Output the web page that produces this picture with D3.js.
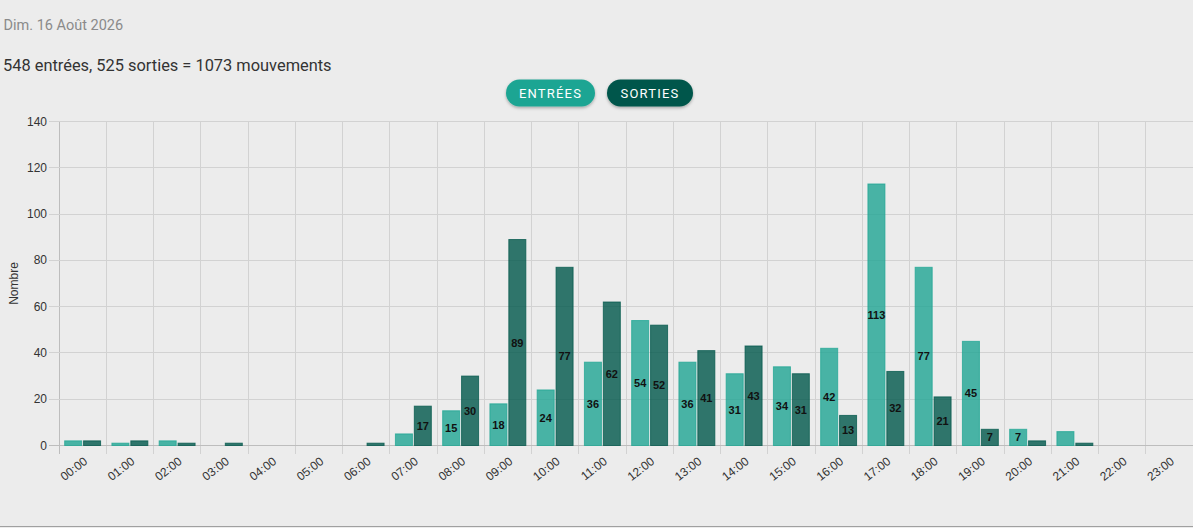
<!DOCTYPE html>
<html>
<head>
<meta charset="utf-8">
<script src="https://cdn.jsdelivr.net/npm/d3@7/dist/d3.min.js"></script>
<style>
  html, body { margin: 0; padding: 0; background: #ececec; }
  svg { display: block; }
</style>
</head>
<body>
<svg id="chart" width="1193" height="528"></svg>
<script>
// ---------------- data ----------------
const hours = ["00:00","01:00","02:00","03:00","04:00","05:00","06:00","07:00","08:00","09:00","10:00","11:00",
               "12:00","13:00","14:00","15:00","16:00","17:00","18:00","19:00","20:00","21:00","22:00","23:00"];
const entrees = [2, 1, 2, 0, 0, 0, 0, 5, 15, 18, 24, 36, 54, 36, 31, 34, 42, 113, 77, 45, 7, 6, 0, 0];
const sorties = [2, 2, 1, 1, 0, 0, 1, 17, 30, 89, 77, 62, 52, 41, 43, 31, 13, 32, 21, 7, 2, 1, 0, 0];
const yTicks = [0, 20, 40, 60, 80, 100, 120, 140];
const dateLabel = "Dim. 16 Août 2026";
const seriesNames = ["ENTRÉES", "SORTIES"];
const seriesColors = ["#1fa593", "#00574b"];

const total = d3.sum(entrees) + d3.sum(sorties);
const summary = `${d3.sum(entrees)} entrées, ${d3.sum(sorties)} sorties = ${total} mouvements`;

// ---------------- layout ----------------
const W = 1193, H = 528;
const plot = { left: 59, right: 1193, top: 121.5, bottom: 445.5 };
const svg = d3.select("#chart");
const axisFont = "'Liberation Sans', Arial, Helvetica, sans-serif";
const headFont = "Roboto, 'Noto Sans', sans-serif";

// ombre des boutons
const defs = svg.append("defs");
const f = defs.append("filter").attr("id", "shadow").attr("x", "-20%").attr("y", "-30%").attr("width", "140%").attr("height", "170%");
f.append("feDropShadow").attr("dx", 0).attr("dy", 1.5).attr("stdDeviation", 1.5).attr("flood-color", "#000").attr("flood-opacity", 0.3);

// ---------------- header ----------------
svg.append("text")
  .attr("x", 3.5).attr("y", 30)
  .attr("font-family", headFont).attr("font-size", 14.5)
  .attr("fill", "#8a8a8a")
  .text(dateLabel);

svg.append("text")
  .attr("x", 3).attr("y", 70.5)
  .attr("font-family", headFont).attr("font-size", 16.4)
  .attr("fill", "#333")
  .text(summary);

// boutons de légende
const btnW = [89, 86], btnGap = 12, btnH = 27, btnY = 79.5;
const btnStart = 506;
const legend = svg.append("g").attr("class", "legend");
let bx = btnStart;
seriesNames.forEach((name, i) => {
  const g = legend.append("g").attr("transform", `translate(${bx},${btnY})`);
  g.append("rect")
    .attr("width", btnW[i]).attr("height", btnH)
    .attr("rx", btnH / 2)
    .attr("fill", seriesColors[i])
    .attr("filter", "url(#shadow)");
  g.append("text")
    .attr("x", btnW[i] / 2).attr("y", btnH / 2 + 4.5)
    .attr("text-anchor", "middle")
    .attr("font-family", headFont).attr("font-size", 13)
    .attr("letter-spacing", 1.2)
    .attr("fill", "#fff")
    .text(name);
  bx += btnW[i] + btnGap;
});

// ---------------- scales ----------------
const x = d3.scaleBand()
  .domain(hours)
  .range([plot.left, plot.right])
  .padding(0);

const bw = x.bandwidth();
const xInner = d3.scaleBand()
  .domain(["entrees", "sorties"])
  .range([0.1 * bw, 0.9 * bw])
  .paddingInner(0.1)
  .paddingOuter(0.05);

const y = d3.scaleLinear()
  .domain([0, 140])
  .range([plot.bottom, plot.top]);

// ---------------- grid ----------------
const grid = svg.append("g").attr("class", "grid");
const edges = hours.map(h => x(h)).concat([plot.right]);

grid.selectAll("line.v")
  .data(edges)
  .join("line")
  .attr("class", "v")
  .attr("x1", d => d).attr("x2", d => d)
  .attr("y1", plot.top).attr("y2", plot.bottom + 8)
  .attr("stroke", d => d === plot.left ? "#bdbdbd" : "#d2d2d2")
  .attr("stroke-width", 1)
  .attr("shape-rendering", "crispEdges");

grid.selectAll("line.h")
  .data(yTicks)
  .join("line")
  .attr("class", "h")
  .attr("x1", plot.left - 10).attr("x2", plot.right)
  .attr("y1", d => y(d)).attr("y2", d => y(d))
  .attr("stroke", d => d === 0 ? "#bdbdbd" : "#d2d2d2")
  .attr("stroke-width", 1)
  .attr("shape-rendering", "crispEdges");

// ---------------- bars ----------------
const rows = hours.map((h, i) => ({ hour: h, entrees: entrees[i], sorties: sorties[i] }));
const keys = ["entrees", "sorties"];

const groups = svg.append("g").attr("class", "bars")
  .selectAll("g")
  .data(rows)
  .join("g")
  .attr("transform", d => `translate(${x(d.hour)},0)`);

const cells = groups.selectAll("g")
  .data(d => keys.map((k, i) => ({ key: k, value: d[k], color: seriesColors[i] })))
  .join("g");

cells.filter(d => d.value > 0)
  .append("rect")
  .attr("x", d => xInner(d.key))
  .attr("y", d => y(d.value))
  .attr("width", xInner.bandwidth())
  .attr("height", d => y(0) - y(d.value))
  .attr("fill", d => d.color)
  .attr("fill-opacity", 0.8)
  .attr("stroke", d => d.color)
  .attr("stroke-opacity", 0.75)
  .attr("stroke-width", 1);

// étiquettes de valeur (seulement si la barre est assez haute)
cells.filter(d => d.value >= 7)
  .append("text")
  .attr("x", d => xInner(d.key) + xInner.bandwidth() / 2)
  .attr("y", d => (y(d.value) + y(0)) / 2 + 4)
  .attr("text-anchor", "middle")
  .attr("font-family", axisFont)
  .attr("font-size", 11)
  .attr("font-weight", "bold")
  .attr("fill", "#111")
  .text(d => d.value);

// ---------------- axes ----------------
svg.append("g").attr("class", "y-ticks")
  .selectAll("text")
  .data(yTicks)
  .join("text")
  .attr("x", plot.left - 12)
  .attr("y", d => y(d) + 4)
  .attr("text-anchor", "end")
  .attr("font-family", axisFont)
  .attr("font-size", 12)
  .attr("fill", "#333")
  .text(d => d);

svg.append("text")
  .attr("transform", `translate(18,${(plot.top + plot.bottom) / 2}) rotate(-90)`)
  .attr("text-anchor", "middle")
  .attr("font-family", axisFont)
  .attr("font-size", 12)
  .attr("fill", "#333")
  .text("Nombre");

svg.append("g").attr("class", "x-ticks")
  .selectAll("text")
  .data(hours)
  .join("text")
  .attr("transform", d => `translate(${x(d) + bw / 2 + 3},${plot.bottom + 14}) rotate(-38)`)
  .attr("text-anchor", "end")
  .attr("dy", "0.35em")
  .attr("font-family", axisFont)
  .attr("font-size", 12)
  .attr("fill", "#333")
  .text(d => d);

// bordure du bas
svg.append("line")
  .attr("x1", 0).attr("x2", W)
  .attr("y1", H - 1.5).attr("y2", H - 1.5)
  .attr("stroke", "#a0a0a0")
  .attr("stroke-width", 1);
</script>
</body>
</html>
